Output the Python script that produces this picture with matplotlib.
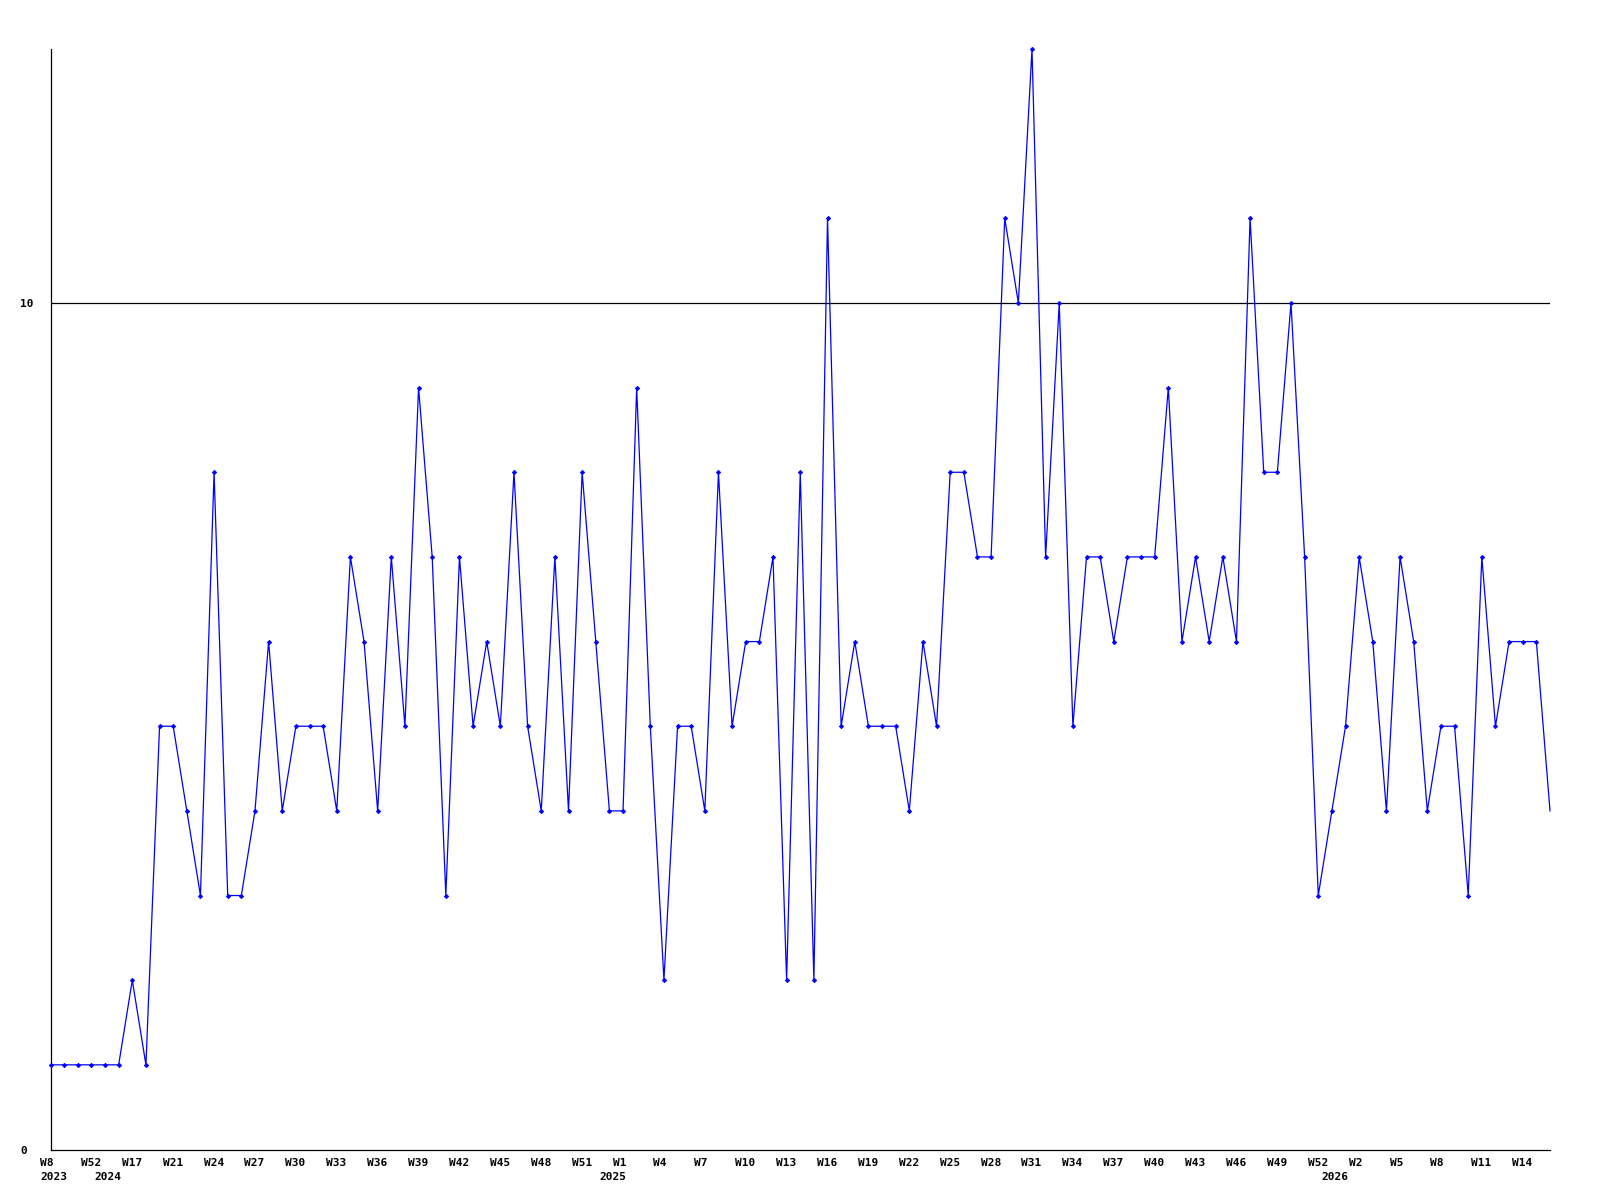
import matplotlib
matplotlib.use("Agg")
import matplotlib.pyplot as plt
import matplotlib.transforms as mtransforms

values = [1, 1, 1, 1, 1, 1, 2, 1, 5, 5, 4, 3, 8, 3, 3, 4, 6, 4, 5, 5,
          5, 4, 7, 6, 4, 7, 5, 9, 7, 3, 7, 5, 6, 5, 8, 5, 4, 7, 4, 8,
          6, 4, 4, 9, 5, 2, 5, 5, 4, 8, 5, 6, 6, 7, 2, 8, 2, 11, 5, 6,
          5, 5, 5, 4, 6, 5, 8, 8, 7, 7, 11, 10, 13, 7, 10, 5, 7, 7, 6, 7,
          7, 7, 9, 6, 7, 6, 7, 6, 11, 8, 8, 10, 7, 3, 4, 5, 7, 6, 4, 7,
          6, 4, 5, 5, 3, 7, 5, 6, 6, 6, 4]

week_tick_idx = list(range(0, 109, 3))
week_labels = ["W8", "W52", "W17", "W21", "W24", "W27", "W30", "W33", "W36", "W39",
               "W42", "W45", "W48", "W51", "W1", "W4", "W7", "W10", "W13", "W16",
               "W19", "W22", "W25", "W28", "W31", "W34", "W37", "W40", "W43", "W46",
               "W49", "W52", "W2", "W5", "W8", "W11", "W14"]
year_idx = [0, 4, 41, 94]
year_labels = ["2023", "2024", "2025", "2026"]

ytick_vals = [0, 10]
ytick_labels = ["0", "10"]

W, H = 1600, 1200
fig = plt.figure(figsize=(16, 12), dpi=100)
left, right, bottom, top = 50.5, 1550, 1149.5, 49
ax = fig.add_axes([left / W, (H - bottom) / H, (right - left) / W, (bottom - top) / H])

x = list(range(len(values)))
ax.plot(x, values, color=(0, 0, 1), lw=0.9, marker="D", ms=2.2, mew=0.6,
        markevery=list(range(len(values) - 1)), clip_on=False, zorder=3)
ax.axhline(10, color="black", lw=0.9, zorder=1)

ax.set_xlim(0, len(values) - 1)
ax.set_ylim(0, 13)

for s in ["top", "right"]:
    ax.spines[s].set_visible(False)
for s in ["left", "bottom"]:
    ax.spines[s].set_linewidth(0.9)
    ax.spines[s].set_color("black")

font = dict(family="DejaVu Sans Mono", weight="bold", size=8)

ax.set_xticks([])
ax.set_yticks(ytick_vals)
ax.set_yticklabels(ytick_labels, **font)
ax.tick_params(axis="y", length=0, pad=22)
for lbl in ax.get_yticklabels():
    lbl.set_horizontalalignment("left")

trans = mtransforms.blended_transform_factory(ax.transData, ax.transAxes)
off_week = mtransforms.ScaledTranslation(-10.5 / 100, -8.5 / 100, fig.dpi_scale_trans)
off_year = mtransforms.ScaledTranslation(-10.5 / 100, -22.5 / 100, fig.dpi_scale_trans)
for i, lab in zip(week_tick_idx, week_labels):
    ax.text(i, 0, lab, transform=trans + off_week, ha="left", va="top", **font)
for i, lab in zip(year_idx, year_labels):
    ax.text(i, 0, lab, transform=trans + off_year, ha="left", va="top", **font)

fig.savefig("out.png", dpi=100, facecolor="white")
